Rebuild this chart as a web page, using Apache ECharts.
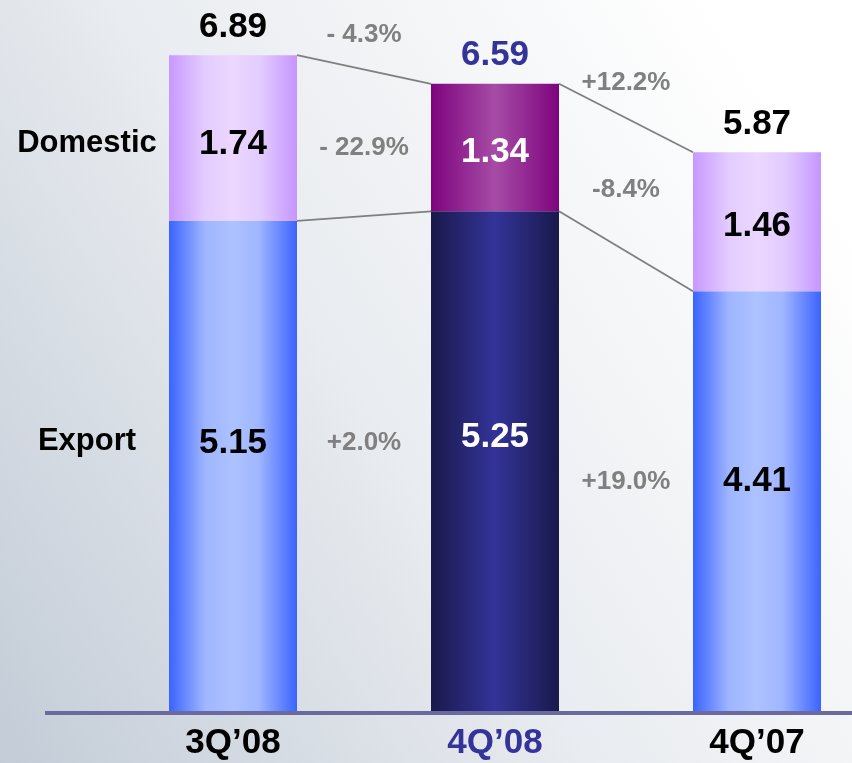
<!DOCTYPE html>
<html>
<head>
<meta charset="utf-8">
<script src="https://cdn.jsdelivr.net/npm/echarts@6/dist/echarts.min.js"></script>
<style>
  html, body { margin: 0; padding: 0; }
  #chart { width: 852px; height: 763px; }
</style>
</head>
<body>
<div id="chart"></div>
<script>
// ---- data ----
const categories = ['3Q\u201908', '4Q\u201908', '4Q\u201907'];
const exportValues = [5.15, 5.25, 4.41];
const domesticValues = [1.74, 1.34, 1.46];
const totalValues = [6.89, 6.59, 5.87];
const totalChange = ['- 4.3%', '+12.2%'];
const domesticChange = ['- 22.9%', '-8.4%'];
const exportChange = ['+2.0%', '+19.0%'];
const seriesNames = ['Domestic', 'Export'];
const highlightIndex = 1;

// ---- styles ----
const FONT = '"Liberation Sans", Arial, Helvetica, sans-serif';
const BAR_W = 128;
const DOM_POS = 0.536;   // label position from top of segment (fraction)
const EXP_POS = 0.453;
const HL = '#333399';
const GRAY = '#808080';

function hGrad(stops) {
  return { type: 'linear', x: 0, y: 0, x2: 1, y2: 0,
    colorStops: stops.map(s => ({ offset: s[0], color: s[1] })) };
}
const expGrad = hGrad([[0, '#3b63ff'], [0.28, '#9fb5ff'], [0.5, '#adc2ff'], [0.7, '#a0b6ff'], [1, '#3b63ff']]);
const domGrad = hGrad([[0, '#c798ff'], [0.28, '#e3ccff'], [0.5, '#ebd7ff'], [0.72, '#e2cbff'], [1, '#c596ff']]);
const expHlGrad = hGrad([[0, '#19194b'], [0.5, '#333399'], [1, '#19194b']]);
const domHlGrad = hGrad([[0, '#7e047e'], [0.5, '#a64ca6'], [1, '#7e047e']]);

const chart = echarts.init(document.getElementById('chart'), null, { renderer: 'canvas' });

const expData = exportValues.map((v, i) => ({
  value: v,
  itemStyle: { color: i === highlightIndex ? expHlGrad : expGrad },
  label: { color: i === highlightIndex ? '#ffffff' : '#000000' }
}));
const domData = domesticValues.map((v, i) => ({
  value: v,
  itemStyle: { color: i === highlightIndex ? domHlGrad : domGrad },
  label: { color: i === highlightIndex ? '#ffffff' : '#000000' }
}));
const totalData = totalValues.map((v, i) => ({
  value: [i, v],
  label: { color: i === highlightIndex ? HL : '#000000' }
}));

// label anchor values (data units) derived from the data
const domLabelY = domesticValues.map((d, i) => exportValues[i] + d * (1 - DOM_POS));
const expLabelY = exportValues.map(e => e * (1 - EXP_POS));
const mid = (arr, i) => (arr[i] + arr[i + 1]) / 2;
const low = (arr, i) => Math.min(arr[i], arr[i + 1]);

const changeData = [];
totalChange.forEach((t, i) => changeData.push({ value: [i + 0.5, mid(totalValues, i)], name: t, label: { offset: [0, -35] } }));
domesticChange.forEach((t, i) => changeData.push({ value: [i + 0.5, mid(domLabelY, i)], name: t }));
exportChange.forEach((t, i) => changeData.push({ value: [i + 0.5, low(expLabelY, i)], name: t }));

const nameData = [
  { value: [0, domLabelY[0]], name: seriesNames[0] },
  { value: [0, expLabelY[0]], name: seriesNames[1] }
];

const connectors = [];
for (let i = 0; i < categories.length - 1; i++) {
  connectors.push([i, totalValues[i], totalValues[i + 1]]);
  connectors.push([i, exportValues[i], exportValues[i + 1]]);
}

const hiddenPoint = { color: 'rgba(0,0,0,0)', opacity: 1 };

const option = {
  backgroundColor: {
    type: 'linear', x: 0, y: 1, x2: 1, y2: 0.3,
    colorStops: [
      { offset: 0, color: '#c3ccd7' },
      { offset: 0.5, color: '#e9ecf0' },
      { offset: 1, color: '#ffffff' }
    ]
  },
  animation: false,
  grid: { left: 102, top: 0, width: 786, height: 711, containLabel: false, outerBoundsMode: 'none' },
  xAxis: [{
    type: 'category',
    data: categories,
    axisLine: { show: false },
    axisTick: { show: false },
    axisLabel: {
      margin: 15,
      fontFamily: FONT, fontWeight: 'bold', fontSize: 35,
      color: (v, i) => (i === highlightIndex ? HL : '#000000')
    },
    splitLine: { show: false }
  }, {
    type: 'value', min: -0.5, max: 2.5, show: false
  }],
  yAxis: { type: 'value', min: 0, max: 7.47, show: false, splitLine: { show: false } },
  series: [
    {
      name: 'Export', type: 'bar', stack: 'q', barWidth: BAR_W, data: expData,
      label: {
        show: true, position: ['50%', (EXP_POS * 100) + '%'], align: 'center', verticalAlign: 'middle',
        fontFamily: FONT, fontWeight: 'bold', fontSize: 35,
        formatter: p => p.value.toFixed(2)
      }
    },
    {
      name: 'Domestic', type: 'bar', stack: 'q', barWidth: BAR_W, data: domData,
      label: {
        show: true, position: ['50%', (DOM_POS * 100) + '%'], align: 'center', verticalAlign: 'middle',
        fontFamily: FONT, fontWeight: 'bold', fontSize: 35,
        formatter: p => p.value.toFixed(2)
      }
    },
    {
      name: 'Total', type: 'scatter', symbolSize: 1, itemStyle: hiddenPoint,
      data: totalData, z: 5,
      label: {
        show: true, position: 'top', distance: 10, color: '#000000',
        fontFamily: FONT, fontWeight: 'bold', fontSize: 35,
        formatter: p => p.value[1].toFixed(2)
      }
    },
    {
      name: 'Change', type: 'scatter', xAxisIndex: 1, symbolSize: 1, itemStyle: hiddenPoint,
      data: changeData, z: 5,
      label: {
        show: true, position: 'inside', align: 'center', verticalAlign: 'middle',
        fontFamily: FONT, fontWeight: 'bold', fontSize: 26, color: GRAY,
        formatter: p => p.name
      }
    },
    {
      name: 'Names', type: 'scatter', xAxisIndex: 1, symbolSize: 1, itemStyle: hiddenPoint,
      data: nameData, z: 5,
      label: {
        show: true, position: 'inside', align: 'center', verticalAlign: 'middle', offset: [-146, -1],
        fontFamily: FONT, fontWeight: 'bold', fontSize: 31, color: '#000000',
        formatter: p => p.name
      }
    },
    {
      name: 'Connectors', type: 'custom', data: connectors, z: 1,
      renderItem: (params, api) => {
        const i = api.value(0);
        const p1 = api.coord([i, api.value(1)]);
        const p2 = api.coord([i + 1, api.value(2)]);
        return {
          type: 'line',
          shape: { x1: p1[0] + BAR_W / 2, y1: p1[1], x2: p2[0] - BAR_W / 2, y2: p2[1] },
          style: { stroke: '#7f7f7f', lineWidth: 1.8 }
        };
      }
    }
  ]
};
chart.setOption(option);

// baseline bar along the x axis
const y0 = chart.convertToPixel({ yAxisIndex: 0 }, 0);
chart.setOption({
  graphic: [{
    type: 'rect', z: 0,
    shape: { x: 45, y: y0, width: 852 - 45, height: 4 },
    style: { fill: '#6a6a9e' }
  }]
});
</script>
</body>
</html>
